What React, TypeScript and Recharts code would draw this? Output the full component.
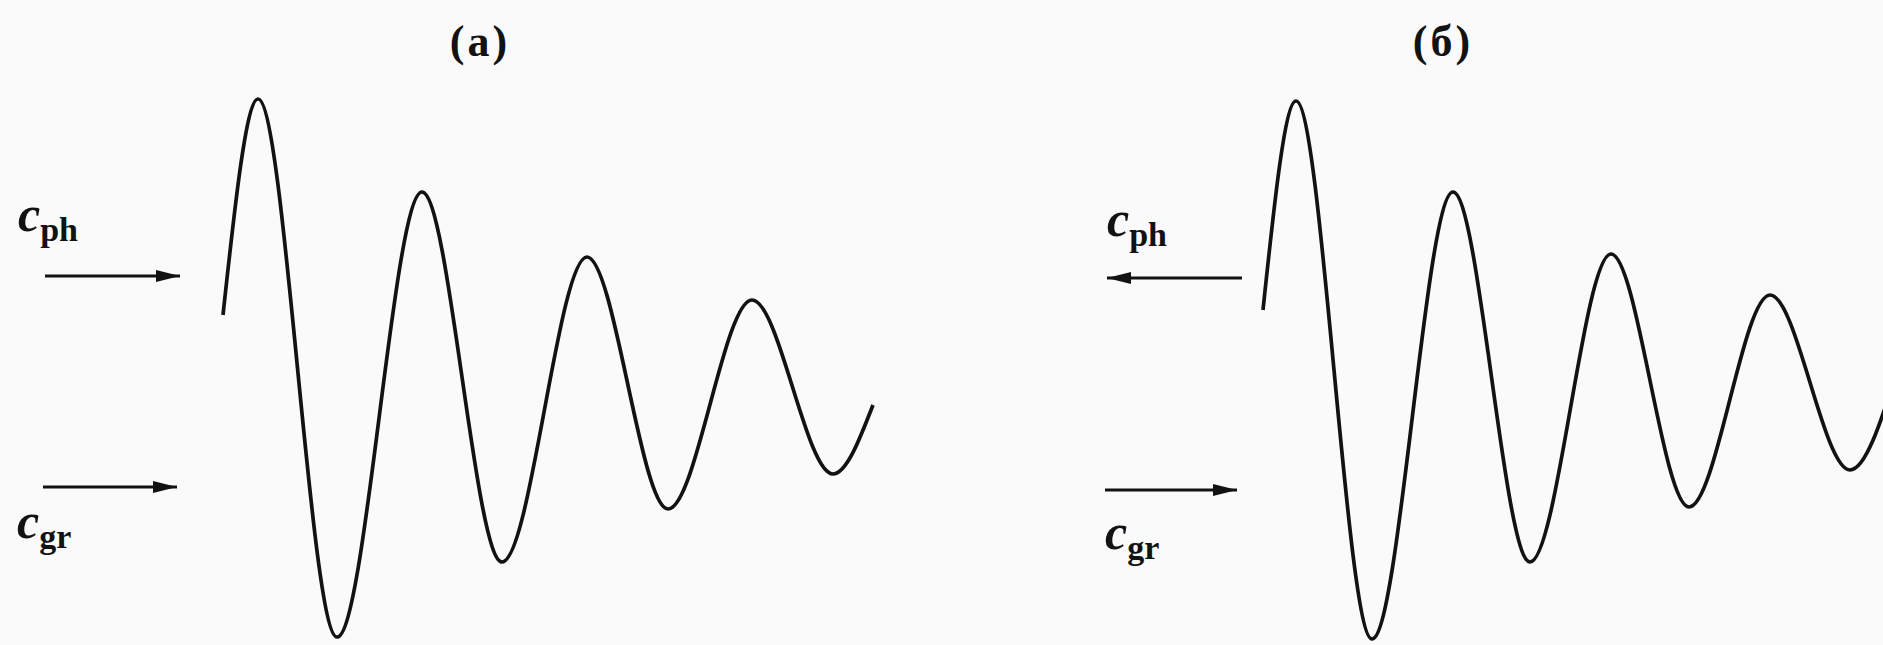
import React from 'react';
import { ComposedChart, Line, XAxis, YAxis, ReferenceLine, ReferenceDot } from 'recharts';

// Panel (a): wave (x: distance units, y: amplitude units)
const waveAX = [22.3, 25.8, 33.7, 42.2, 50.2, 58.7, 66.8, 75.2, 83.3, 87.3];
const waveAY = [0.65, 2.81, -2.57, 1.88, -1.82, 1.23, -1.29, 0.8, -0.94, -0.25];

// Panel (б)
const waveBX = [32.2, 35.5, 43.1, 51.2, 58.9, 67.0, 74.8, 82.9, 90.9, 95.5];
const waveBY = [0.7, 2.79, -2.59, 1.88, -1.82, 1.26, -1.27, 0.85, -0.9, 0.05];

// Arrows: [from x, to x (head), y]
const arrowsA = [
  [4.5, 18.0, 1.04],
  [4.3, 17.7, -1.07],
];
const arrowsB = [
  [30.1, 16.6, 1.02],
  [16.4, 29.6, -1.1],
];

// Velocity labels: [x, y, main, subscript]
const labelsA: [number, number, string, string][] = [
  [1.8, 1.49, 'c', 'ph'],
  [1.7, -1.58, 'c', 'gr'],
];
const labelsB: [number, number, string, string][] = [
  [16.6, 1.44, 'c', 'ph'],
  [16.4, -1.69, 'c', 'gr'],
];

const titles = ['(a)', '(б)'];
const titlePos = [
  [48.0, 3.39],
  [50.2, 3.39],
];

const FONT = '"Liberation Serif", "DejaVu Serif", "Times New Roman", serif';
const INK = '#121212';
const Y_DOMAIN: [number, number] = [-2.65, 3.8];

function buildData(xs: number[], ys: number[]) {
  return xs.map((x, i) => ({ x, y: ys[i] }));
}

function Panel(props: {
  id: string;
  width: number;
  xs: number[];
  ys: number[];
  arrows: number[][];
  labels: [number, number, string, string][];
  title: string;
  tpos: number[];
}) {
  const { id, width, xs, ys, arrows, labels, title, tpos } = props;
  const data = buildData(xs, ys);
  const markerId = 'head-' + id;
  return (
    <ComposedChart width={width} height={645} data={data} margin={{ top: 0, right: 0, bottom: 0, left: 0 }}>
      <defs>
        <marker
          id={markerId}
          viewBox="0 0 24 12"
          refX={24}
          refY={6}
          markerWidth={24}
          markerHeight={12}
          markerUnits="userSpaceOnUse"
          orient="auto"
        >
          <path d="M0,0 L24,6 L0,12 z" fill={INK} />
        </marker>
      </defs>
      <XAxis dataKey="x" type="number" domain={[0, width / 10]} allowDataOverflow hide />
      <YAxis type="number" domain={Y_DOMAIN} allowDataOverflow hide />
      <Line
        dataKey="y"
        type="monotone"
        stroke={INK}
        strokeWidth={3.7}
        dot={false}
        activeDot={false}
        isAnimationActive={false}
      />
      {arrows.map((a, i) => (
        <ReferenceLine
          key={'ar' + i}
          segment={[
            { x: a[0], y: a[2] },
            { x: a[1], y: a[2] },
          ]}
          ifOverflow="visible"
          shape={(p: any) => (
            <line
              x1={p.x1}
              y1={p.y1}
              x2={p.x2}
              y2={p.y2}
              stroke={INK}
              strokeWidth={3.2}
              markerEnd={`url(#${markerId})`}
            />
          )}
        />
      ))}
      {labels.map((l, i) => (
        <ReferenceDot
          key={'lb' + i}
          x={l[0]}
          y={l[1]}
          r={0}
          ifOverflow="visible"
          shape={(p: any) => (
            <text x={p.cx} y={p.cy} fontFamily={FONT} fill={INK}>
              <tspan fontStyle="italic" fontWeight="bold" fontSize={50}>
                {l[2]}
              </tspan>
              <tspan fontWeight="bold" fontSize={34} dy={10}>
                {l[3]}
              </tspan>
            </text>
          )}
        />
      ))}
      <ReferenceDot
        x={tpos[0]}
        y={tpos[1]}
        r={0}
        ifOverflow="visible"
        shape={(p: any) => (
          <text
            x={p.cx}
            y={p.cy}
            textAnchor="middle"
            dominantBaseline="central"
            fontFamily={FONT}
            fontWeight="bold"
            fontSize={44}
            letterSpacing={3}
            fill={INK}
          >
            {title}
          </text>
        )}
      />
    </ComposedChart>
  );
}

export default function App() {
  return (
    <div
      style={{
        position: 'absolute',
        left: 0,
        top: 0,
        width: 1883,
        height: 645,
        background: '#fafafa',
        display: 'flex',
        overflow: 'hidden',
      }}
    >
      <Panel id="a" width={941} xs={waveAX} ys={waveAY} arrows={arrowsA} labels={labelsA} title={titles[0]} tpos={titlePos[0]} />
      <Panel id="b" width={942} xs={waveBX} ys={waveBY} arrows={arrowsB} labels={labelsB} title={titles[1]} tpos={titlePos[1]} />
    </div>
  );
}
